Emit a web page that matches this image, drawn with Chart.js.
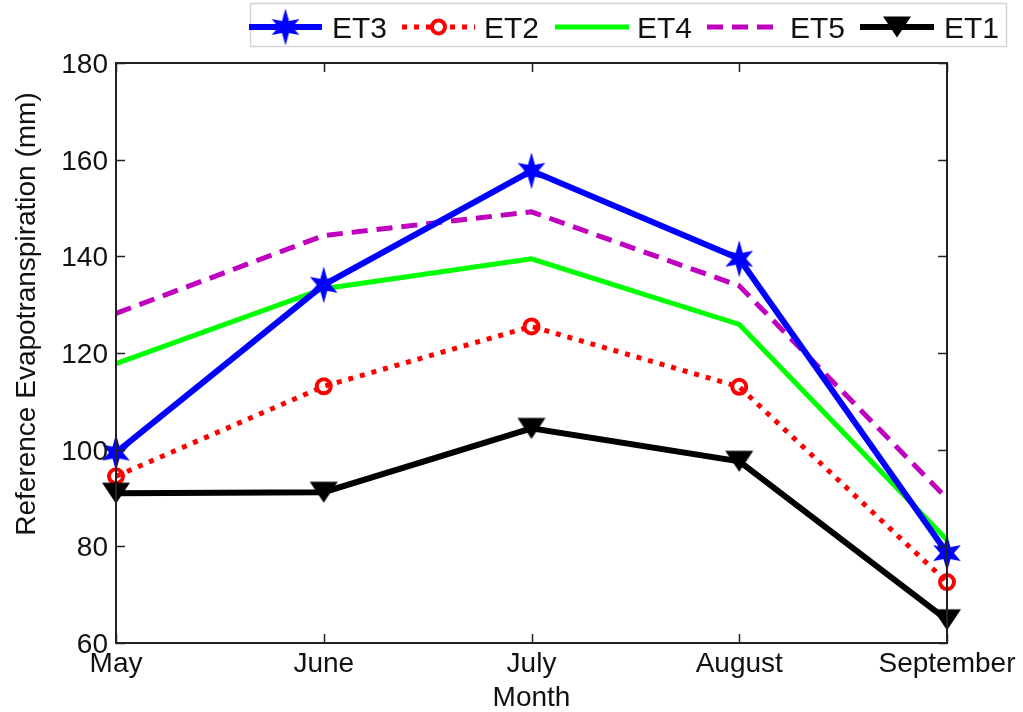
<!DOCTYPE html>
<html>
<head>
<meta charset="utf-8">
<script src="https://cdn.jsdelivr.net/npm/chart.js@4"></script>
<style>
html,body{margin:0;padding:0;background:#fff;}
#wrap{width:1023px;height:712px;position:relative;}
</style>
</head>
<body>
<div id="wrap"><canvas id="c" width="1023" height="712"></canvas></div>
<script>
const months = ["May", "June", "July", "August", "September"];
const et3 = [99.4, 134.1, 157.7, 139.5, 78.6];
const et2 = [94.5, 113.1, 125.5, 113.0, 72.6];
const et4 = [117.8, 133.3, 139.5, 125.9, 81.3];
const et5 = [128.2, 144.3, 149.2, 133.9, 89.9];
const et1 = [91.0, 91.2, 104.4, 97.6, 64.8];
const yTicks = [60, 80, 100, 120, 140, 160, 180];
const seriesNames = ["ET3", "ET2", "ET4", "ET5", "ET1"];
const xTitle = "Month";
const yTitle = "Reference Evapotranspiration (mm)";

const FONT = "28px 'Liberation Sans', Arial, sans-serif";
const LFONT = "30px 'Liberation Sans', Arial, sans-serif";

function drawHexStar(ctx, cx, cy, R, r, color) {
  ctx.save();
  ctx.fillStyle = color;
  ctx.beginPath();
  for (let i = 0; i < 12; i++) {
    const ang = -Math.PI / 2 + i * Math.PI / 6;
    let rad = (i % 2 === 0) ? R : r;
    if (i === 0 || i === 6) rad = R * 1.15;
    const x = cx + rad * Math.cos(ang);
    const y = cy + rad * Math.sin(ang);
    if (i === 0) ctx.moveTo(x, y); else ctx.lineTo(x, y);
  }
  ctx.closePath();
  ctx.fill();
  ctx.restore();
}

const starImg = document.createElement('canvas');
starImg.width = 44; starImg.height = 44;
drawHexStar(starImg.getContext('2d'), 22, 22, 16, 7, '#0000ff');

function drawTri(ctx, cx, cy, s) {
  ctx.save();
  ctx.fillStyle = '#000';
  ctx.beginPath();
  ctx.moveTo(cx - s, cy - s * 0.6);
  ctx.lineTo(cx + s, cy - s * 0.6);
  ctx.lineTo(cx, cy + s * 0.9);
  ctx.closePath();
  ctx.fill();
  ctx.restore();
}
const triImg = document.createElement('canvas');
triImg.width = 36; triImg.height = 36;
drawTri(triImg.getContext('2d'), 18, 16, 14);

const styles = [
  {color: '#0000ff', width: 6, dash: [], marker: 'star'},
  {color: '#ff0000', width: 5, dash: [5, 7], marker: 'circle'},
  {color: '#00ff00', width: 5, dash: [], marker: 'none'},
  {color: '#bf00bf', width: 5, dash: [16, 9], marker: 'none'},
  {color: '#000000', width: 6, dash: [], marker: 'tri'}
];

const overlay = {
  id: 'overlay',
  afterDraw(chart) {
    const ctx = chart.ctx;
    const xs = chart.scales.x, ys = chart.scales.y;
    const a = chart.chartArea;
    ctx.save();
    ctx.strokeStyle = '#222';
    ctx.lineWidth = 2;
    ctx.setLineDash([]);
    ctx.strokeRect(a.left, a.top, a.right - a.left, a.bottom - a.top);
    ctx.lineWidth = 1.5;
    ctx.beginPath();
    months.forEach((m, i) => {
      const x = Math.round(xs.getPixelForValue(i)) + 0.5;
      ctx.moveTo(x, a.bottom); ctx.lineTo(x, a.bottom - 9);
      ctx.moveTo(x, a.top); ctx.lineTo(x, a.top + 9);
    });
    yTicks.forEach(v => {
      const y = Math.round(ys.getPixelForValue(v)) + 0.5;
      ctx.moveTo(a.left, y); ctx.lineTo(a.left + 9, y);
      ctx.moveTo(a.right, y); ctx.lineTo(a.right - 9, y);
    });
    ctx.stroke();
    ctx.fillStyle = '#111';
    ctx.font = FONT;
    ctx.textAlign = 'right';
    ctx.textBaseline = 'alphabetic';
    yTicks.forEach(v => {
      const y = ys.getPixelForValue(v);
      ctx.fillText(String(v), a.left - 8, y + 10);
    });
    ctx.textAlign = 'center';
    months.forEach((m, i) => {
      ctx.fillText(m, xs.getPixelForValue(i), 672);
    });
    ctx.fillText(xTitle, (a.left + a.right) / 2, 706);
    ctx.save();
    ctx.translate(35, 314);
    ctx.rotate(-Math.PI / 2);
    ctx.fillText(yTitle, 0, 0);
    ctx.restore();

    // legend
    ctx.fillStyle = '#fff';
    ctx.fillRect(250, 3, 757, 44);
    ctx.strokeStyle = '#d4d4d4';
    ctx.lineWidth = 1.5;
    ctx.strokeRect(250.5, 3.5, 756, 43);
    const items = [
      {x0: 249, x1: 322, tx: 332},
      {x0: 402, x1: 475, tx: 484},
      {x0: 555, x1: 629, tx: 637},
      {x0: 707, x1: 782, tx: 790},
      {x0: 860, x1: 934, tx: 944}
    ];
    const ly = 27;
    ctx.font = LFONT;
    items.forEach((it, i) => {
      const st = styles[i];
      ctx.save();
      ctx.strokeStyle = st.color;
      ctx.lineWidth = st.width;
      ctx.setLineDash(st.dash);
      ctx.beginPath();
      ctx.moveTo(it.x0, ly); ctx.lineTo(it.x1, ly);
      ctx.stroke();
      ctx.restore();
      const cx = (it.x0 + it.x1) / 2;
      if (st.marker === 'star') ctx.drawImage(starImg, cx - 22, ly - 22);
      if (st.marker === 'tri') ctx.drawImage(triImg, cx - 18, ly - 18);
      if (st.marker === 'circle') {
        ctx.save();
        ctx.fillStyle = '#fff';
        ctx.strokeStyle = st.color; ctx.lineWidth = 4; ctx.setLineDash([]);
        ctx.beginPath(); ctx.arc(cx, ly, 6.5, 0, Math.PI * 2); ctx.fill(); ctx.stroke();
        ctx.restore();
      }
      ctx.fillStyle = '#111';
      ctx.textAlign = 'left';
      ctx.fillText(seriesNames[i], it.tx, ly + 11);
    });
    ctx.restore();
  }
};

function ds(label, data, st, order) {
  const d = {
    label, data,
    borderColor: st.color,
    backgroundColor: st.color,
    borderWidth: st.width,
    borderDash: st.dash,
    borderCapStyle: 'butt',
    tension: 0,
    fill: false,
    clip: false,
    order
  };
  if (st.marker === 'star') {
    d.pointStyle = starImg; d.pointRadius = 16;
  } else if (st.marker === 'tri') {
    d.pointStyle = triImg; d.pointRadius = 15;
  } else if (st.marker === 'circle') {
    d.pointStyle = 'circle'; d.pointRadius = 7;
    d.pointBorderWidth = 4; d.pointBorderColor = st.color;
    d.pointBackgroundColor = 'rgba(255,255,255,0)';
  } else {
    d.pointRadius = 0;
  }
  d.pointHoverRadius = d.pointRadius;
  return d;
}

new Chart(document.getElementById('c'), {
  type: 'line',
  data: {
    labels: months,
    datasets: [
      ds(seriesNames[0], et3, styles[0], 1),
      ds(seriesNames[1], et2, styles[1], 4),
      ds(seriesNames[2], et4, styles[2], 3),
      ds(seriesNames[3], et5, styles[3], 2),
      ds(seriesNames[4], et1, styles[4], 0)
    ]
  },
  options: {
    responsive: false,
    animation: false,
    events: [],
    layout: {padding: {top: 63, right: 76, left: 0, bottom: 0}},
    plugins: {legend: {display: false}, tooltip: {enabled: false}, title: {display: false}},
    scales: {
      x: {
        type: 'category',
        offset: false,
        grid: {display: false},
        border: {display: false},
        ticks: {display: false},
        afterFit(s) { s.height = 69; }
      },
      y: {
        min: 60, max: 180,
        grid: {display: false},
        border: {display: false},
        ticks: {display: false, stepSize: 20},
        afterFit(s) { s.width = 116; }
      }
    }
  },
  plugins: [overlay]
});
</script>
</body>
</html>
